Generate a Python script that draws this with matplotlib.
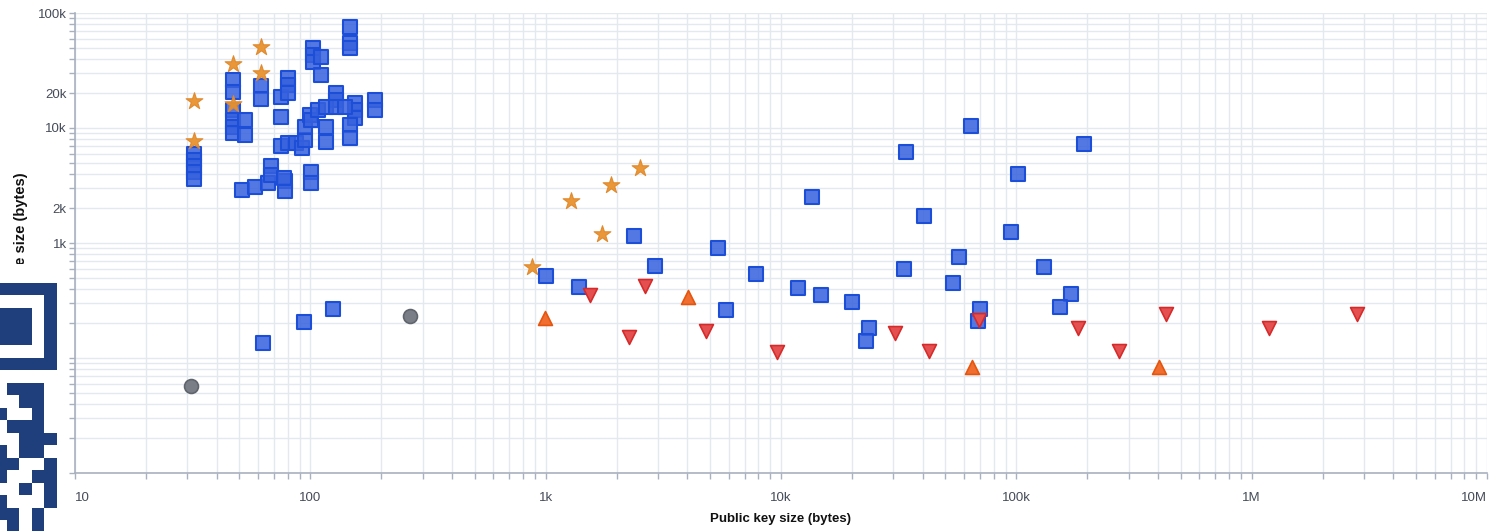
"""Public key size vs signature size, log-log scatter (Agg backend)."""
import matplotlib
matplotlib.use("Agg")
import matplotlib.pyplot as plt
import numpy as np
from matplotlib.colors import ListedColormap
from matplotlib.ticker import FixedLocator, FuncFormatter, NullFormatter

plt.rcParams["font.family"] = ["Liberation Sans", "DejaVu Sans"]

# --- data (bytes) -------------------------------------------------------
square_pk = [32, 32, 32, 32, 32,
             47, 47, 47, 47, 47, 47,
             53, 53, 62, 62, 75, 75, 75, 80, 80, 80, 80,
             103, 103, 103, 111, 111, 148, 148, 148, 128, 128,
             155, 155, 155, 189, 189, 148, 148,
             51, 58, 66, 78, 78, 68, 68, 87, 92, 95, 95, 100, 101,
             108, 116, 116, 117, 128, 141, 101, 101, 77,
             63, 94, 125,
             1000, 1380, 2366, 2911, 5395, 5835, 7834, 11800, 13600, 14800,
             20000, 23700, 23000, 34000, 33300, 40600, 64400, 57200, 54000,
             70300, 68900, 102000, 95300, 131000, 193000, 170000, 154000]
square_sig = [5940, 5270, 4670, 4140, 3600,
              26100, 20600, 14400, 11700, 10200, 9060,
              11700, 8690, 23200, 17900, 18600, 12500, 6970, 27200, 23700, 20100, 7410,
              49600, 43100, 37500, 41400, 28900, 75500, 54800, 49600, 20100, 17500,
              16500, 14400, 12200, 17500, 14400, 10600, 8190,
              2890, 3070, 3330, 3460, 2830, 4670, 3900, 7410, 6700, 7870, 10200, 13000, 11700,
              14400, 15200, 7550, 10200, 15200, 15200, 4140, 3330, 3670,
              135, 206, 267,
              516, 414, 1150, 631, 906, 261, 537, 406, 2510, 353,
              307, 182, 141, 6180, 594, 1720, 10400, 755, 449,
              267, 210, 3980, 1250, 618, 7260, 360, 278]

star_pk = [32, 32, 47, 47, 62, 62, 871, 1277, 1730, 1890, 2513]
star_sig = [17200, 7700, 36000, 16200, 50600, 30000, 618, 2320, 1200, 3190, 4490]

down_pk = [1538, 2637, 2255, 4797, 9620, 30500, 42700, 69700, 183000, 272000,
           434000, 1190000, 2800000]
down_sig = [353, 423, 152, 172, 113, 165, 115, 214, 182, 115, 241, 182, 241]

up_pk = [991, 4018, 65000, 402000]
up_sig = [223, 339, 84, 84]

circle_pk = [31, 264]
circle_sig = [57, 232]

x_labels = {10: "10", 100: "100", 1e3: "1k", 1e4: "10k", 1e5: "100k",
            1e6: "1M", 1e7: "10M"}
y_ticks = [10, 20, 100, 200, 1e3, 2e3, 1e4, 2e4, 1e5]
y_labels = ["10", "20", "100", "200", "1k", "2k", "10k", "20k", "100k"]

# overlay block pattern at the lower left edge (1 = dark module)
qr = np.array([
    [1, 1, 1, 1, 1],
    [0, 0, 0, 0, 1],
    [1, 1, 1, 0, 1],
    [1, 1, 1, 0, 1],
    [1, 1, 1, 0, 1],
    [0, 0, 0, 0, 1],
    [1, 1, 1, 1, 1],
    [0, 0, 0, 0, 0],
    [0, 1, 1, 1, 0],
    [0, 0, 1, 1, 0],
    [1, 0, 0, 1, 0],
    [0, 1, 1, 1, 0],
    [0, 0, 1, 1, 1],
    [1, 0, 1, 1, 0],
    [1, 1, 0, 0, 1],
    [1, 0, 0, 1, 1],
    [0, 0, 1, 0, 1],
    [1, 0, 0, 0, 1],
    [1, 1, 0, 1, 0],
    [0, 1, 0, 1, 0],
])

GRID = "#e4e8ef"
AXIS = "#a9b1bf"
TICKTXT = "#454b59"

W, H = 1499, 531
fig = plt.figure(figsize=(W / 100, H / 100), dpi=100)
ax = fig.add_axes([75 / W, (H - 473) / H, (1487 - 75) / W, (473 - 13) / H])
ax.set_xscale("log")
ax.set_yscale("log")
ax.set_xlim(10, 1e7)
ax.set_ylim(10, 1e5)

ax.scatter(circle_pk, circle_sig, s=100, marker="o", facecolor="#7a7e87",
           edgecolor="#60646d", linewidth=1.2, zorder=3)
ax.scatter(square_pk, square_sig, s=90, marker="s",
           facecolor=(0.21, 0.38, 0.87, 0.85), edgecolor="#1d4ed8",
           linewidth=1.5, zorder=3)
ax.scatter(star_pk, star_sig, s=160, marker="*", facecolor="#e8922e",
           edgecolor="#e0882a", linewidth=0.8, alpha=0.95, zorder=4)
ax.scatter(down_pk, down_sig, s=100, marker="v", facecolor="#e45050",
           edgecolor="#d62a2a", linewidth=1.2, zorder=4)
ax.scatter(up_pk, up_sig, s=100, marker="^", facecolor="#f06e30",
           edgecolor="#e4560f", linewidth=1.2, zorder=4)

# ticks / grid
ax.xaxis.set_major_locator(FixedLocator(list(x_labels)))
ax.xaxis.set_minor_locator(FixedLocator(
    [m * 10 ** d for d in range(1, 7) for m in range(2, 10)]))
ax.xaxis.set_major_formatter(FuncFormatter(lambda v, p: x_labels.get(v, "")))
ax.xaxis.set_minor_formatter(NullFormatter())
ax.yaxis.set_major_locator(FixedLocator(y_ticks))
ax.yaxis.set_minor_locator(FixedLocator(
    [m * 10 ** d for d in range(1, 5) for m in range(3, 10)]))
ax.set_yticklabels(y_labels)
ax.yaxis.set_minor_formatter(NullFormatter())

ax.grid(True, which="both", color=GRID, linewidth=1.0, zorder=0)
ax.set_axisbelow(True)
ax.tick_params(which="both", direction="out", length=4, width=1,
               color=AXIS, labelcolor=TICKTXT, labelsize=9.5)
ax.tick_params(axis="x", pad=10)
ax.tick_params(axis="y", pad=2)
for s in ("top", "right"):
    ax.spines[s].set_visible(False)
for s in ("left", "bottom"):
    ax.spines[s].set_color(AXIS)
    ax.spines[s].set_linewidth(1.2)

# flush end labels like the original
xt = ax.get_xticklabels()
xt[0].set_horizontalalignment("left")
xt[-1].set_horizontalalignment("right")

ax.set_xlabel("Public key size (bytes)", fontsize=9.5, fontweight="bold",
              color="#111111", labelpad=6)
fig.text(21 / W, 1 - 172 / H, "Signature size (bytes)", rotation=90,
         ha="center", va="top", fontsize=10.5, fontweight="bold", color="#111111")

# overlay block at lower left (covers part of the y axis title)
qax = fig.add_axes([0, 0, 69 / W, 267 / H], zorder=10)
qax.set_facecolor("white")
qax.imshow(qr, cmap=ListedColormap(["white", "#1e3f7c"]), vmin=0, vmax=1,
           extent=(-5.5, 57, 533, 283), interpolation="nearest", aspect="auto")
qax.set_xlim(0, 69)
qax.set_ylim(H, H - 267)
qax.set_xticks([])
qax.set_yticks([])
for s in qax.spines.values():
    s.set_visible(False)

fig.savefig("out.png", dpi=100, facecolor="white")
